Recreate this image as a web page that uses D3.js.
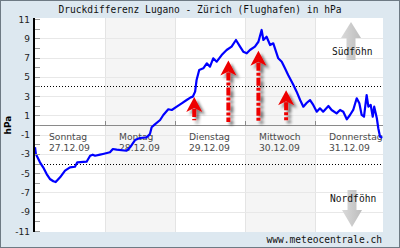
<!DOCTYPE html>
<html>
<head>
<meta charset="utf-8">
<script src="https://cdn.jsdelivr.net/npm/d3@7"></script>
<style>
  html, body { margin: 0; padding: 0; background: #fff; }
  svg { display: block; }
</style>
</head>
<body>
<div id="chart"></div>
<script>
// Druckdifferenz Lugano - Zürich, hours since 27.12.09 00:00
const hours = [0, 0.3, 1.7, 2.8, 4.0, 5.1, 6.3, 7.1, 8.6, 10.3, 12.0, 13.7, 14.5, 17.7, 18.9, 19.8,
    20.6, 22.3, 23.3, 25.7, 26.7, 28.0, 31.4, 32.6, 34.3, 36.0, 38.3, 39.4, 40.0, 41.1, 42.9,
    44.0, 45.7, 46.9, 48.6, 50.3, 52.0, 53.4, 54.1, 54.9, 55.4, 56.3, 57.7, 58.9, 60.0, 61.1,
    62.3, 64.0, 65.7, 67.4, 68.9, 70.3, 71.4, 72.6, 73.7, 75.4, 76.6, 77.7, 78.3, 79.4, 80.6,
    81.7, 83.4, 84.6, 85.7, 86.8, 88.6, 89.7, 90.9, 92.0, 93.2, 94.3, 95.4, 96.6, 97.7, 98.8,
    100.6, 101.7, 103.4, 104.6, 105.7, 106.9, 108.0, 109.1, 110.3, 111.2, 112.0, 112.8, 113.7,
    114.3, 115.1, 115.8, 116.3, 117.2, 117.7, 118.3, 119.1];
const hPa = [-2.31, -3.01, -3.87, -4.39, -5.09, -5.60, -5.84, -5.92, -5.43, -4.74, -4.39, -4.33, -3.87, -3.81, -3.19, -3.08,
    -3.19, -3.08, -3.01, -2.83, -2.49, -2.56, -2.67, -2.31, -1.56, -1.35, -1.28, -0.93, -0.24, 0.07, 0.52,
    1.04, 1.63, 1.56, 1.90, 2.25, 2.59, 2.87, 2.94, 3.46, 4.67, 5.71, 5.88, 6.40, 6.05, 6.92,
    6.57, 7.26, 7.78, 8.13, 8.82, 8.13, 7.61, 7.44, 7.78, 8.13, 8.64, 9.86, 8.82, 9.16, 8.30,
    8.48, 6.92, 6.57, 5.88, 5.19, 4.15, 3.46, 2.59, 1.90, 2.31, 2.59, 2.08, 1.38, 1.73, 1.38,
    1.97, 1.56, 1.21, 1.56, 1.38, 0.59, 1.04, 1.56, 2.77, 2.25, 1.04, 0.86, 3.11,
    1.90, 2.08, 0.86, 1.90, 0.70, -0.34, -1.21, -1.32];

const days = ["Sonntag", "Montag", "Dienstag", "Mittwoch", "Donnerstag"];
const dates = ["27.12.09", "28.12.09", "29.12.09", "30.12.09", "31.12.09"];
const yTicks = [11, 9, 7, 5, 3, 1, -1, -3, -5, -7, -9, -11];
const thresholds = [4, -4];

// red arrows: position (hours), tip and foot (hPa)
const arrowHours = [54.6, 66.3, 76.6, 86.1];
const arrowTops = [2.9, 6.7, 7.7, 3.6];
const arrowFoot = [0.5, 0.3, 0.3, 0.5];

const W = 400, H = 248;
const plot = {left: 35, right: 383, top: 18, bottom: 232};

const svg = d3.select("#chart").append("svg")
    .attr("width", W)
    .attr("height", H);

const defs = svg.append("defs");
const shadow = defs.append("filter").attr("id", "shadow")
    .attr("x", "-50%").attr("y", "-20%").attr("width", "200%").attr("height", "150%");
shadow.append("feGaussianBlur").attr("in", "SourceAlpha").attr("stdDeviation", 1.8).attr("result", "b");
shadow.append("feOffset").attr("in", "b").attr("dx", 3).attr("dy", 3).attr("result", "o");
shadow.append("feComponentTransfer").attr("in", "o").attr("result", "s")
    .append("feFuncA").attr("type", "linear").attr("slope", 0.55);
const merge = shadow.append("feMerge");
merge.append("feMergeNode").attr("in", "s");
merge.append("feMergeNode").attr("in", "SourceGraphic");

const grad = defs.append("linearGradient").attr("id", "grey").attr("x1", 0).attr("x2", 1);
grad.append("stop").attr("offset", "0%").attr("stop-color", "#dadada");
grad.append("stop").attr("offset", "100%").attr("stop-color", "#bdbdbd");

// frame
svg.append("rect")
    .attr("x", 0.5).attr("y", 0.5)
    .attr("width", W - 1).attr("height", H - 1)
    .attr("fill", "#dde8f0")
    .attr("stroke", "#6e7a84");

const x = d3.scaleLinear().domain([0, 120]).range([35, 385]);
const y = d3.scaleLinear().domain([-11, 11]).range([231, 19]);

svg.append("rect")
    .attr("x", plot.left).attr("y", plot.top)
    .attr("width", plot.right - plot.left).attr("height", plot.bottom - plot.top)
    .attr("fill", "#fff");

// alternating day bands
svg.append("g").selectAll("rect")
    .data(days)
    .join("rect")
    .attr("x", (d, i) => x(i * 24))
    .attr("y", plot.top)
    .attr("width", (d, i) => Math.min(x((i + 1) * 24), plot.right) - x(i * 24))
    .attr("height", plot.bottom - plot.top)
    .attr("fill", (d, i) => i % 2 ? "#f5f5f5" : "none");

svg.append("g").selectAll("line")
    .data(d3.range(1, days.length))
    .join("line")
    .attr("x1", d => x(d * 24) + 0.5).attr("x2", d => x(d * 24) + 0.5)
    .attr("y1", plot.top).attr("y2", plot.bottom)
    .attr("stroke", "#e4e4e4");

// horizontal grid
svg.append("g").selectAll("line")
    .data(yTicks.filter(d => Math.abs(d) < 11))
    .join("line")
    .attr("x1", plot.left).attr("x2", plot.right)
    .attr("y1", d => Math.round(y(d)) + 0.5).attr("y2", d => Math.round(y(d)) + 0.5)
    .attr("stroke", "#e8e8e8");

// Föhn arrows
const grey = svg.append("g").attr("fill", "url(#grey)");
grey.append("path")
    .attr("d", "M351,22 L361,38 L355.5,38 L355.5,60 L346.5,60 L346.5,38 L341,38 Z");
grey.append("path")
    .attr("d", "M352,227 L362,210 L356.5,210 L356.5,190 L347.5,190 L347.5,210 L342,210 Z");

// thresholds
svg.append("g").selectAll("line")
    .data(thresholds)
    .join("line")
    .attr("x1", plot.left).attr("x2", plot.right)
    .attr("y1", d => Math.round(y(d)) + 0.5).attr("y2", d => Math.round(y(d)) + 0.5)
    .attr("stroke", "#000")
    .attr("stroke-dasharray", "1,2");

// zero axis with day ticks
svg.append("line")
    .attr("x1", plot.left).attr("x2", plot.right)
    .attr("y1", Math.round(y(0)) + 0.5).attr("y2", Math.round(y(0)) + 0.5)
    .attr("stroke", "#8a8a8a");
svg.append("g").selectAll("line")
    .data(d3.range(1, days.length))
    .join("line")
    .attr("x1", d => x(d * 24) + 0.5).attr("x2", d => x(d * 24) + 0.5)
    .attr("y1", y(0) - 4).attr("y2", y(0))
    .attr("stroke", "#8a8a8a");

// day labels
const dayLabels = svg.append("g")
    .attr("font-family", "DejaVu Sans, Verdana, sans-serif")
    .attr("font-size", "9.2px")
    .attr("fill", "#4a4a4a");
days.forEach((d, i) => {
    dayLabels.append("text").attr("x", x(i * 24) + 14).attr("y", 140).text(d);
    dayLabels.append("text").attr("x", x(i * 24) + 14).attr("y", 151).text(dates[i]);
});

// red arrows
const red = svg.append("g").attr("filter", "url(#shadow)");
arrowHours.forEach((h, i) => {
    const cx = x(h), top = y(arrowTops[i]);
    red.append("line")
        .attr("x1", cx).attr("x2", cx)
        .attr("y1", top + 12).attr("y2", y(arrowFoot[i]))
        .attr("stroke", "#ee0000")
        .attr("stroke-width", 4)
        .attr("stroke-dasharray", "8,2,3,2");
    red.append("path")
        .attr("d", `M${cx},${top} L${cx + 8},${top + 15} L${cx},${top + 11} L${cx - 8},${top + 15} Z`)
        .attr("fill", "#ee0000");
});

// data line
const line = d3.line()
    .x((d, i) => x(hours[i]))
    .y(d => y(d));
svg.append("path")
    .datum(hPa)
    .attr("d", line)
    .attr("fill", "none")
    .attr("stroke", "#0000ff")
    .attr("stroke-width", 2.2)
    .attr("stroke-linejoin", "round");

// y axis
const yAxis = svg.append("g");
yAxis.selectAll("line.minor")
    .data(d3.range(-11, 12))
    .join("line")
    .attr("x1", plot.left).attr("x2", plot.left + 5)
    .attr("y1", d => Math.round(y(d)) + 0.5).attr("y2", d => Math.round(y(d)) + 0.5)
    .attr("stroke", "#999");
yAxis.append("line")
    .attr("x1", 34).attr("x2", 34)
    .attr("y1", plot.top).attr("y2", plot.bottom)
    .attr("stroke", "#000")
    .attr("stroke-width", 2);
yAxis.selectAll("text")
    .data(yTicks)
    .join("text")
    .attr("x", 30)
    .attr("y", d => y(d) + 3.5)
    .attr("text-anchor", "end")
    .attr("font-family", "DejaVu Sans, Verdana, sans-serif")
    .attr("font-size", "9px")
    .attr("fill", "#222")
    .text(d => d);

svg.append("text")
    .attr("transform", `translate(11,${y(0)}) rotate(-90)`)
    .attr("text-anchor", "middle")
    .attr("font-family", "DejaVu Sans, Verdana, sans-serif")
    .attr("font-size", "9px")
    .attr("font-weight", "bold")
    .text("hPa");

// mono texts
const mono = svg.append("g")
    .attr("font-family", "DejaVu Sans Mono, monospace")
    .attr("font-size", "9.6px")
    .attr("fill", "#111");
mono.append("text").attr("x", 200).attr("y", 13).attr("text-anchor", "middle")
    .text("Druckdifferenz Lugano - Zürich (Flughafen) in hPa");
mono.append("text").attr("x", 332).attr("y", 55).text("Südföhn");
mono.append("text").attr("x", 330).attr("y", 202).text("Nordföhn");
mono.append("text").attr("x", 382).attr("y", 243).attr("text-anchor", "end")
    .text("www.meteocentrale.ch");
</script>
</body>
</html>
